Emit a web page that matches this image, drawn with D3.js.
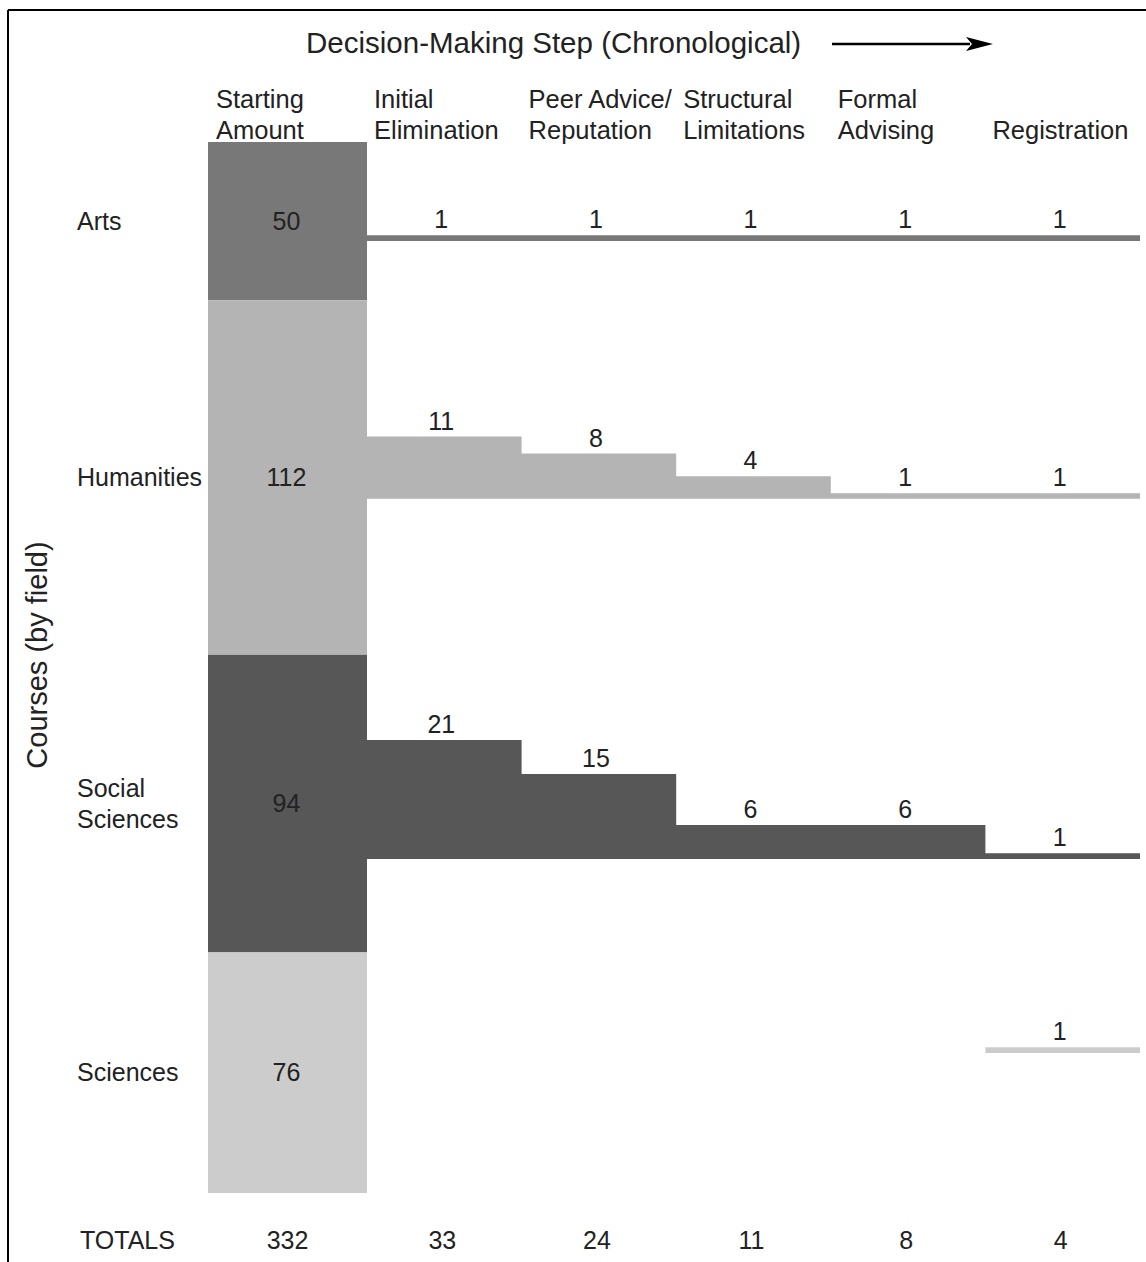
<!DOCTYPE html>
<html>
<head>
<meta charset="utf-8">
<script src="https://cdn.jsdelivr.net/npm/d3@7"></script>
<style>
  html, body { margin: 0; padding: 0; background: #fff; }
  svg { display: block; }
  text { font-family: "Liberation Sans", Arial, Helvetica, sans-serif; fill: #222; }
</style>
</head>
<body>
<svg id="chart" width="1146" height="1262"></svg>
<script>
// ---- data ----
const fields = ["Arts", "Humanities", "Social Sciences", "Sciences"];
const fieldLabelLines = [["Arts"], ["Humanities"], ["Social", "Sciences"], ["Sciences"]];
const startingAmount = [50, 112, 94, 76];
const steps = ["Initial Elimination", "Peer Advice/ Reputation", "Structural Limitations", "Formal Advising", "Registration"];
const headerLines = [["Starting", "Amount"], ["Initial", "Elimination"], ["Peer Advice/", "Reputation"],
                     ["Structural", "Limitations"], ["Formal", "Advising"], ["", "Registration"]];
const artsSteps = [1, 1, 1, 1, 1];
const humanitiesSteps = [11, 8, 4, 1, 1];
const socialSciencesSteps = [21, 15, 6, 6, 1];
const sciencesSteps = [0, 0, 0, 0, 1];
const title = "Decision-Making Step (Chronological)";
const yTitle = "Courses (by field)";
const totalsLabel = "TOTALS";

// ---- layout / style ----
const fieldColors = ["#787878", "#b4b4b4", "#575757", "#cccccc"];
const rowBaselineFrac = [0.625, 0.56, 0.686, 0.418]; // where each row's step baseline sits in its band
const stepSeries = [artsSteps, humanitiesSteps, socialSciencesSteps, sciencesSteps];

const svg = d3.select("#chart");

// frame
svg.append("line").attr("x1", 8).attr("x2", 1146).attr("y1", 10).attr("y2", 10)
  .attr("stroke", "#000").attr("stroke-width", 2);
svg.append("line").attr("x1", 8).attr("x2", 8).attr("y1", 10).attr("y2", 1262)
  .attr("stroke", "#000").attr("stroke-width", 2);

// scales
const total = d3.sum(startingAmount);
const yStart = d3.scaleLinear().domain([0, total]).range([142, 1193]);
const xStartBar = [208, 367];
const xStep = d3.scaleBand().domain(steps).range([367, 1140]).padding(0);
const hStep = d3.scaleLinear().domain([0, d3.max(socialSciencesSteps)]).range([0, 119]);

const cum = d3.cumsum([0].concat(startingAmount));

// starting amount stacked bar
const rows = fields.map((f, i) => {
  const y0 = yStart(cum[i]), y1 = yStart(cum[i + 1]);
  return { field: f, i, y0, y1, value: startingAmount[i], base: y0 + (y1 - y0) * rowBaselineFrac[i] };
});

svg.append("g").selectAll("rect").data(rows).join("rect")
  .attr("x", xStartBar[0]).attr("width", xStartBar[1] - xStartBar[0])
  .attr("y", d => d.y0).attr("height", d => d.y1 - d.y0)
  .attr("fill", d => fieldColors[d.i]);

svg.append("g").selectAll("text").data(rows).join("text")
  .attr("x", (xStartBar[0] + xStartBar[1]) / 2 - 1)
  .attr("y", d => (d.y0 + d.y1) / 2)
  .attr("dy", "0.35em").attr("text-anchor", "middle").attr("font-size", 25)
  .text(d => d.value);

// field labels
rows.forEach(d => {
  const lines = fieldLabelLines[d.i];
  const cy = (d.y0 + d.y1) / 2;
  const lh = 31;
  lines.forEach((ln, k) => {
    svg.append("text").attr("x", 77)
      .attr("y", cy + (k - (lines.length - 1) / 2) * lh)
      .attr("dy", "0.35em").attr("font-size", 25).text(ln);
  });
});

// step bars: one stepped area per row (no seams between bands)
rows.forEach(d => {
  const vals = stepSeries[d.i];
  const g = svg.append("g");
  const pts = steps.map((s, j) => ({ x: xStep(s), v: vals[j] }));
  pts.push({ x: xStep.range()[1], v: vals[vals.length - 1] });
  const area = d3.area()
    .x(p => p.x)
    .y0(d.base)
    .y1(p => d.base - hStep(p.v))
    .curve(d3.curveStepAfter);
  // draw only the non-zero runs
  let run = [];
  const runs = [];
  pts.forEach((p, j) => {
    if (j < vals.length && p.v > 0) run.push(p);
    else if (run.length) { run.push({ x: p.x, v: run[run.length - 1].v }); runs.push(run); run = []; }
  });
  if (run.length) runs.push(run);
  runs.forEach(r => {
    g.append("path").attr("d", area(r)).attr("fill", fieldColors[d.i]);
  });
  const data = steps.map((s, j) => ({ s, v: vals[j] })).filter(e => e.v > 0);
  g.selectAll("text").data(data).join("text")
    .attr("x", e => xStep(e.s) + xStep.bandwidth() / 2 - 3)
    .attr("y", e => d.base - hStep(e.v) - 7)
    .attr("text-anchor", "middle").attr("font-size", 25)
    .text(e => e.v);
});

// column headers
const headerX = [xStartBar[0] + 8].concat(steps.map(s => xStep(s) + 7));
headerLines.forEach((lines, j) => {
  lines.forEach((ln, k) => {
    if (!ln) return;
    svg.append("text").attr("x", headerX[j]).attr("y", 108 + k * 31)
      .attr("font-size", 25.5).text(ln);
  });
});

// title + arrow
svg.append("text").attr("x", 306).attr("y", 53).attr("font-size", 29.5).text(title);
svg.append("line").attr("x1", 832).attr("x2", 970).attr("y1", 44).attr("y2", 44)
  .attr("stroke", "#000").attr("stroke-width", 2.5);
svg.append("path").attr("d", "M966,37 L993,44 L966,51 L972,44 Z").attr("fill", "#000");

// y-axis title
svg.append("text").attr("transform", "translate(47,655) rotate(-90)")
  .attr("text-anchor", "middle").attr("font-size", 29).text(yTitle);

// totals
const stepTotals = steps.map((s, j) => d3.sum(stepSeries, arr => arr[j]));
const totals = [total].concat(stepTotals);
const totalX = [(xStartBar[0] + xStartBar[1]) / 2].concat(steps.map(s => xStep(s) + xStep.bandwidth() / 2 - 2));
svg.append("text").attr("x", 80).attr("y", 1249).attr("font-size", 25).text(totalsLabel);
svg.append("g").selectAll("text").data(totals).join("text")
  .attr("x", (d, j) => totalX[j]).attr("y", 1249)
  .attr("text-anchor", "middle").attr("font-size", 25).text(d => d);
</script>
</body>
</html>
